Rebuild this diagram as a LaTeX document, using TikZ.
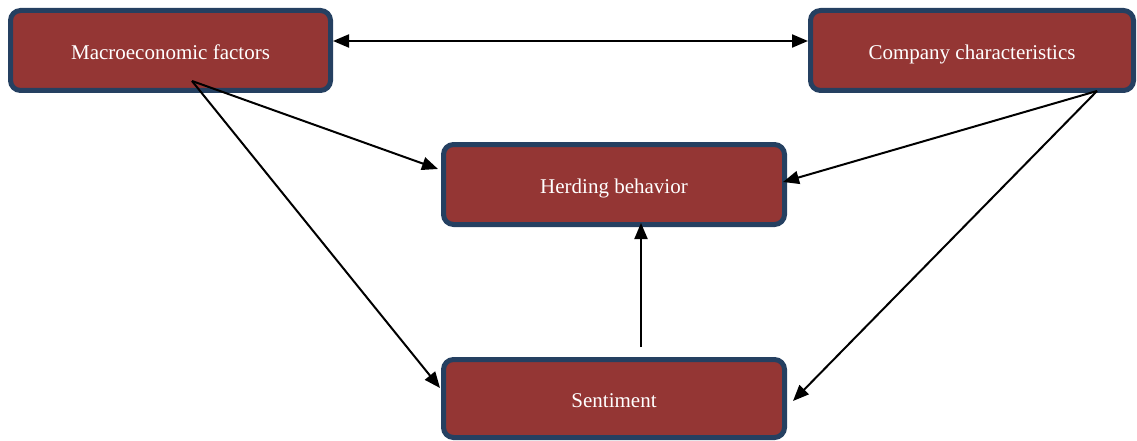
\documentclass[tikz,border=0pt]{standalone}
\usepackage{fontspec}
\setmainfont{Liberation Serif}
\usetikzlibrary{arrows.meta,calc}
\definecolor{boxfill}{HTML}{943634}
\definecolor{boxline}{HTML}{254061}
\begin{document}
\begin{tikzpicture}[x=1pt,y=-1pt,
  factor/.style={draw=boxline, line width=5pt, fill=boxfill, rounded corners=10pt,
    text=white, font=\fontsize{21}{25}\selectfont, minimum height=80pt, inner sep=0pt,
    text height=18pt, text depth=0pt},
  link/.style={line width=2pt, -{Triangle[length=16pt,width=13pt]}},
  dlink/.style={line width=2pt, {Triangle[length=16pt,width=13pt]}-{Triangle[length=16pt,width=13pt]}}]
\useasboundingbox (0,0) rectangle (1137,441);
\node[factor, minimum width=320pt] (macro) at (170.5,50.5) {Macroeconomic factors};
\node[factor, minimum width=323pt] (comp) at (972,50.5) {Company characteristics};
\node[factor, minimum width=341pt] (herd) at (614,184.5) {Herding behavior};
\node[factor, minimum width=341pt, minimum height=78pt] (sent) at (614,398.5) {Sentiment};
\draw[dlink] ($(macro.east)+(0,-9.5)$) -- ($(comp.west)+(0,-9.5)$);
\draw[link] ($(macro.center)+(21.5,30.5)$) -- ($(herd.west)+(-3,-15.5)$);
\draw[link] ($(macro.center)+(21.5,30.5)$) -- ($(sent.west)+(-1,-10.5)$);
\draw[link] ($(comp.center)+(125,40.5)$) -- ($(herd.east)+(-4,-2.5)$);
\draw[link] ($(comp.center)+(125,40.5)$) -- ($(sent.east)+(6,2.5)$);
\draw[link] ($(sent.north)+(27,-10)$) -- ($(herd.south)+(27,-4)$);
\end{tikzpicture}
\end{document}
